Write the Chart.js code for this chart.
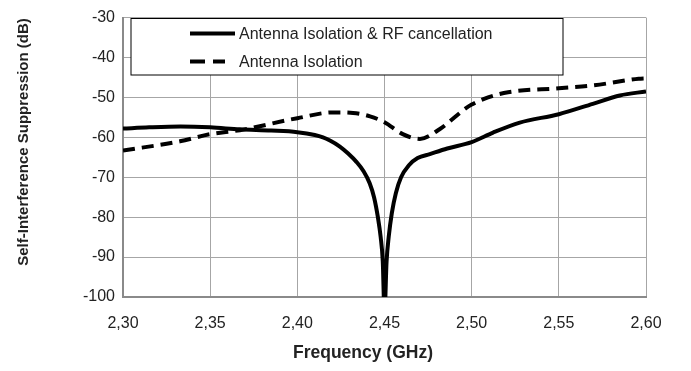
<!DOCTYPE html>
<html>
<head>
<meta charset="utf-8">
<script src="https://cdn.jsdelivr.net/npm/chart.js@4.4.1/dist/chart.umd.min.js"></script>
<style>
  html, body { margin: 0; padding: 0; background: #ffffff; }
  #wrap { position: relative; width: 691px; height: 371px; }
</style>
</head>
<body>
<div id="wrap"><canvas id="c" width="691" height="371"></canvas></div>
<script>
// ---- Data ----
const seriesLabels = ['Antenna Isolation & RF cancellation', 'Antenna Isolation'];

const freqSolid = [2.300, 2.315, 2.333, 2.350, 2.367, 2.385, 2.400, 2.410, 2.4147, 2.4187, 2.4244, 2.4290, 2.4340, 2.4380, 2.4415, 2.4440, 2.4462, 2.4478, 2.4490, 2.4500, 2.4512, 2.4524, 2.4542, 2.4565, 2.4595, 2.4640, 2.4690, 2.4760, 2.4860, 2.5000, 2.5123, 2.5276, 2.5500, 2.5695, 2.5850, 2.6000];
const rfCancel  = [-57.8, -57.5, -57.3, -57.5, -58.0, -58.3, -58.7, -59.4, -60.0, -60.8, -62.3, -64.0, -66.2, -68.5, -71.5, -75.0, -80.0, -85.0, -91.0, -104, -91.0, -85.0, -79.0, -74.0, -70.0, -67.0, -65.2, -64.2, -62.8, -61.2, -58.8, -56.3, -54.2, -51.6, -49.5, -48.5];

const freqDashed = [2.300, 2.3327, 2.350, 2.367, 2.400, 2.4207, 2.432, 2.4417, 2.450, 2.4605, 2.4703, 2.4818, 2.4961, 2.500, 2.5094, 2.5209, 2.550, 2.5695, 2.5958, 2.600];
const isolation  = [-63.3, -61.0, -59.2, -58.2, -55.2, -53.75, -53.9, -54.75, -56.2, -59.2, -60.4, -57.9, -52.9, -51.8, -50.0, -48.7, -47.7, -47.0, -45.3, -45.2];

const xTickValues = [2.30, 2.35, 2.40, 2.45, 2.50, 2.55, 2.60];
const xTickLabels = ['2,30', '2,35', '2,40', '2,45', '2,50', '2,55', '2,60'];
const yTickValues = [-100, -90, -80, -70, -60, -50, -40, -30];
const yTickLabels = ['-100', '-90', '-80', '-70', '-60', '-50', '-40', '-30'];

const xTitle = 'Frequency (GHz)';
const yTitle = 'Self-Interference Suppression (dB)';

// ---- Chart ----
const FONT = "'Liberation Sans', Arial, sans-serif";
const TEXT = '#222222';

function pts(xs, ys) { return xs.map((x, i) => ({ x: x, y: ys[i] })); }

const legendBox = {
  id: 'legendBox',
  afterDraw(chart) {
    const ctx = chart.ctx;
    ctx.save();
    ctx.fillStyle = '#ffffff';
    ctx.fillRect(131, 18.5, 432, 56.5);
    ctx.strokeStyle = '#000000';
    ctx.lineWidth = 1;
    ctx.strokeRect(131, 18.5, 432, 56.5);
    const rows = [33.5, 61.5];
    chart.data.datasets.forEach((ds, i) => {
      ctx.beginPath();
      ctx.strokeStyle = ds.borderColor;
      ctx.lineWidth = ds.borderWidth;
      if (i === 1) { ctx.setLineDash([15, 8]); ctx.moveTo(190, rows[i]); ctx.lineTo(225, rows[i]); }
      else { ctx.setLineDash([]); ctx.moveTo(190, rows[i]); ctx.lineTo(235, rows[i]); }
      ctx.stroke();
      ctx.setLineDash([]);
      ctx.fillStyle = TEXT;
      ctx.font = '16px ' + FONT;
      ctx.textBaseline = 'middle';
      ctx.textAlign = 'left';
      ctx.fillText(ds.label, 239, rows[i] + 1);
    });
    ctx.restore();
  }
};

const axisTitles = {
  id: 'axisTitles',
  afterDraw(chart) {
    const ctx = chart.ctx;
    ctx.save();
    ctx.fillStyle = TEXT;
    ctx.textAlign = 'center';
    ctx.textBaseline = 'middle';
    ctx.font = 'bold 17.5px ' + FONT;
    ctx.fillText(xTitle, 363, 353);
    ctx.translate(24, 142);
    ctx.rotate(-Math.PI / 2);
    ctx.font = 'bold 15px ' + FONT;
    ctx.fillText(yTitle, 0, 0);
    ctx.restore();
  }
};

new Chart(document.getElementById('c'), {
  type: 'line',
  data: {
    datasets: [
      {
        label: seriesLabels[0],
        data: pts(freqSolid, rfCancel),
        borderColor: '#000000',
        borderWidth: 4,
        pointRadius: 0,
        cubicInterpolationMode: 'monotone',
        fill: false
      },
      {
        label: seriesLabels[1],
        data: pts(freqDashed, isolation),
        borderColor: '#000000',
        borderWidth: 4,
        borderDash: [12, 7],
        pointRadius: 0,
        cubicInterpolationMode: 'monotone',
        fill: false
      }
    ]
  },
  options: {
    responsive: false,
    animation: false,
    events: [],
    layout: { padding: { left: 0, right: 45, top: 12, bottom: 0 } },
    plugins: {
      legend: { display: false },
      tooltip: { enabled: false }
    },
    scales: {
      x: {
        type: 'linear',
        min: 2.30,
        max: 2.60,
        afterBuildTicks(scale) { scale.ticks = xTickValues.map(v => ({ value: v })); },
        afterFit(scale) { scale.height = 74; },
        ticks: {
          callback: (v, i) => xTickLabels[i],
          font: { family: FONT, size: 16 },
          color: TEXT,
          padding: 17,
          maxRotation: 0,
          autoSkip: false
        },
        grid: { color: '#a6a6a6', lineWidth: 1, drawTicks: false },
        border: { color: '#8a8a8a', width: 2 },
        title: { display: false }
      },
      y: {
        type: 'linear',
        min: -100,
        max: -30,
        afterBuildTicks(scale) { scale.ticks = yTickValues.map(v => ({ value: v })); },
        afterFit(scale) { scale.width = 123; },
        ticks: {
          callback: (v, i) => yTickLabels[i],
          font: { family: FONT, size: 16 },
          color: TEXT,
          padding: 8,
          autoSkip: false
        },
        grid: { color: '#a6a6a6', lineWidth: 1, drawTicks: false },
        border: { color: '#8a8a8a', width: 2 },
        title: { display: false }
      }
    }
  },
  plugins: [legendBox, axisTitles]
});
</script>
</body>
</html>
